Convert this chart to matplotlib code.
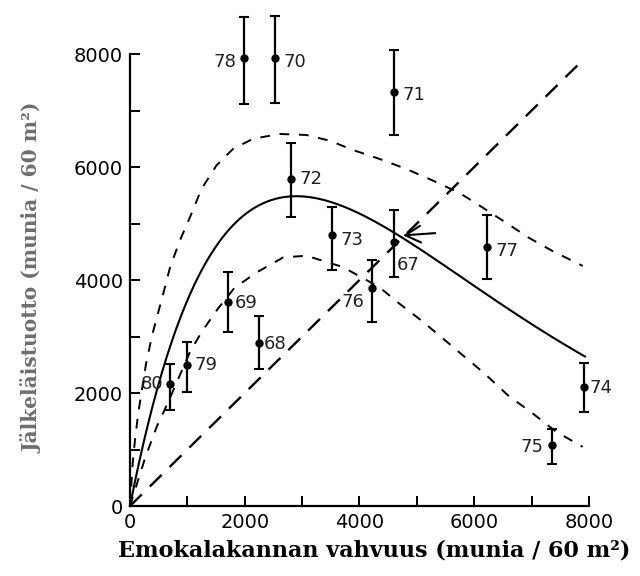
import numpy as np
import matplotlib
matplotlib.use("Agg")
import matplotlib.pyplot as plt

plt.rcParams['lines.scale_dashes'] = False

# Annual observations: spawning stock and recruitment (eggs / 60 m2)
years = ['67', '68', '69', '70', '71', '72', '73', '74', '75', '76', '77', '78', '79', '80']
stock = [4600, 2240, 1710, 2520, 4600, 2800, 3520, 7910, 7350, 4210, 6230, 1980, 1000, 690]
recruits = [4670, 2890, 3610, 7930, 7320, 5790, 4790, 2110, 1080, 3850, 4580, 7930, 2490, 2160]
recruits_low = [4060, 2420, 3080, 7140, 6560, 5110, 4180, 1670, 750, 3260, 4020, 7120, 2020, 1700]
recruits_high = [5240, 3360, 4140, 8670, 8080, 6420, 5300, 2540, 1370, 4360, 5150, 8650, 2900, 2520]

# Ricker stock-recruitment model R = a * S * exp(-b * S)
ricker_a = 5.14
ricker_b = 1.0 / 2900
curve_end = 7930

# Confidence limits of the fitted curve
upper_stock = [0, 47, 87, 145, 280, 385, 580, 700, 870, 1070, 1245, 1505, 1795, 2145,
               2610, 3075, 3480, 3885, 4350, 4815, 5280, 5745, 6120, 6560, 6965, 7370, 7890]
upper_recruits = [0, 750, 1170, 1650, 2520, 3020, 3760, 4230, 4700, 5170, 5610, 6025, 6320, 6500,
                  6585, 6567, 6466, 6302, 6143, 5966, 5760, 5540, 5300, 5010, 4740, 4510, 4250]
lower_stock = [0, 261, 465, 667, 1045, 1249, 1530, 1820, 2200, 2670, 3075, 3710, 4350,
               4697, 5075, 5425, 5800, 6180, 6585, 7020, 7430, 7890]
lower_recruits = [0, 843, 1401, 1843, 2726, 3080, 3490, 3860, 4130, 4400, 4430, 4230, 3870,
                  3581, 3286, 2991, 2668, 2345, 1961, 1638, 1313, 1048]

# Replacement line R = S
replacement_end = 7930

# Equilibrium point marked with an arrow
arrow_tip = (4760, 4790)
arrow_tail = (5320, 4830)

major_ticks = [0, 2000, 4000, 6000, 8000]
minor_ticks = [1000, 3000, 5000, 7000]

# Year label placement (offset in points, horizontal alignment)
label_pos = {
    '67': (2, -16.5, 'left'), '68': (4, -1, 'left'), '69': (4.7, -1, 'left'),
    '70': (6.5, -3, 'left'), '71': (6.5, -1.5, 'left'), '72': (6.5, 0, 'left'),
    '73': (6, -3.5, 'left'), '74': (4.3, -1.2, 'left'), '75': (-5.8, -1.2, 'right'),
    '76': (-5, -9.5, 'right'), '77': (6, -3, 'left'), '78': (-5.5, -3, 'right'),
    '79': (5, 0, 'left'), '80': (-4.3, 0, 'right'),
}

fig = plt.figure(figsize=(6.4, 5.76), dpi=100)
ax = fig.add_axes([0.2031, 0.1215, 0.7172, 0.7847])
ax.set_xlim(0, 8000)
ax.set_ylim(0, 8000)

# Fitted curve
s = np.linspace(0, curve_end, 400)
ax.plot(s, ricker_a * s * np.exp(-ricker_b * s), color='black', lw=1.5, clip_on=False)

# Confidence band
ax.plot(upper_stock, upper_recruits, color='black', lw=1.4, ls=(0, (7, 7)), clip_on=False)
ax.plot(lower_stock, lower_recruits, color='black', lw=1.4, ls=(0, (7, 7)), clip_on=False)

# Replacement line
ax.plot([0, replacement_end], [0, replacement_end], color='black', lw=1.7,
        ls=(0, (12, 8)), clip_on=False)

# Observations with error bars
yerr = [np.array(recruits) - np.array(recruits_low), np.array(recruits_high) - np.array(recruits)]
eb = ax.errorbar(stock, recruits, yerr=yerr, fmt='o', color='black', ms=5,
                 elinewidth=1.6, capsize=3.5, capthick=1.5)
eb.lines[0].set_clip_on(False)
for art in list(eb.lines[1]) + list(eb.lines[2]):
    art.set_clip_on(False)

for yr, sx, ry in zip(years, stock, recruits):
    dx, dy, ha = label_pos[yr]
    ax.annotate(yr, (sx, ry), xytext=(dx, dy), textcoords='offset points',
                ha=ha, va='center', fontsize=13, family='DejaVu Sans', color='#222222')

ax.annotate('', xy=arrow_tip, xytext=arrow_tail,
            arrowprops=dict(arrowstyle='->, head_length=0.55, head_width=0.3',
                            color='black', lw=1.5, mutation_scale=20, shrinkA=0, shrinkB=0))

# Axes styling
for side in ('top', 'right'):
    ax.spines[side].set_visible(False)
for side in ('left', 'bottom'):
    ax.spines[side].set_linewidth(1.6)

ax.set_xticks(major_ticks)
ax.set_yticks(major_ticks)
ax.set_xticks(minor_ticks, minor=True)
ax.set_yticks(minor_ticks, minor=True)
ax.set_xticklabels([str(t) for t in major_ticks])
ax.set_yticklabels([str(t) for t in major_ticks])
ax.tick_params(which='both', direction='in', length=7, width=1.4, labelsize=14, pad=5)
for lab in ax.get_xticklabels() + ax.get_yticklabels():
    lab.set_family('DejaVu Sans')

fig.text(0.584, 0.045, 'Emokalakannan vahvuus (munia / 60 m²)', ha='center', va='center',
         fontsize=16, family='DejaVu Serif', weight='bold', color='black')
fig.text(0.05, 0.517, 'Jälkeläistuotto (munia / 60 m²)', ha='center', va='center',
         rotation=90, fontsize=14.5, family='DejaVu Serif', weight='bold', color='#6e6e6e')

fig.savefig('out.png', dpi=100)
